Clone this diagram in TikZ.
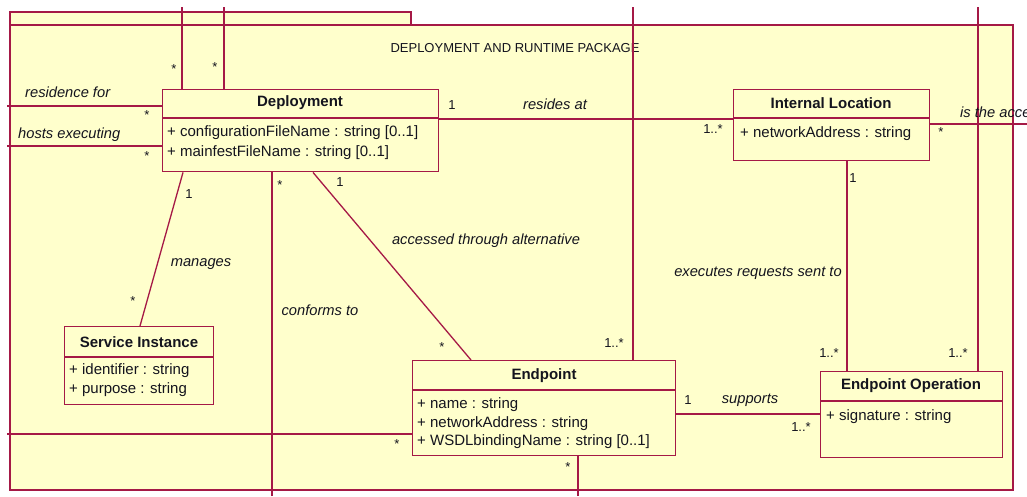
\documentclass[tikz,border=0pt]{standalone}
\usepackage{fontspec}
\setmainfont{Liberation Sans}
\definecolor{umlline}{RGB}{165,25,70}
\definecolor{umlfill}{RGB}{255,255,204}
\definecolor{umltext}{RGB}{20,20,30}
\begin{document}
\begin{tikzpicture}[x=1pt,y=-1pt,
  pkg/.style={draw=umlline,fill=umlfill,line width=1.4pt},
  cls/.style={draw=umlline,fill=umlfill,line width=1.4pt,inner sep=0pt,anchor=north west},
  divider/.style={draw=umlline,line width=1.3pt},
  assoc/.style={draw=umlline,line width=1.3pt},
  clsname/.style={inner sep=0pt,text=umltext,font=\bfseries\fontsize{15}{17}\selectfont},
  attr/.style={inner sep=0pt,anchor=west,text=umltext,font=\fontsize{15}{17}\selectfont},
  lbl/.style={inner sep=0pt,text=umltext,font=\itshape\fontsize{14.7}{17}\selectfont},
  mult/.style={inner sep=0pt,text=umltext,font=\fontsize{13}{15}\selectfont},
  pkgtitle/.style={inner sep=0pt,text=umltext,font=\fontsize{13}{15}\selectfont}]

\useasboundingbox (0,0) rectangle (1027,496);
\clip (0,0) rectangle (1027,496);
\fill[white] (0,0) rectangle (1027,496);

% package frame with its tab
\draw[pkg] (10,12) rectangle (411,25);
\draw[pkg] (10,25) rectangle (1013,490);
\node[pkgtitle] (pkgname) at (515,48) {DEPLOYMENT AND RUNTIME PACKAGE};

% class boxes (placed first so connectors can refer to them)
\node[cls,minimum width=276pt,minimum height=82pt] (dep) at (162,89) {};
\node[cls,minimum width=196pt,minimum height=71pt] (ilo) at (733,89) {};
\node[cls,minimum width=149pt,minimum height=78pt] (si) at (64,326) {};
\node[cls,minimum width=263pt,minimum height=95pt] (ep) at (412,360) {};
\node[cls,minimum width=182pt,minimum height=86pt] (eo) at (820,371) {};

% free ends of associations leaving the package
\coordinate (topA) at (182,7);
\coordinate (topB) at (224,7);
\coordinate (topC) at (633,7);
\coordinate (topD) at (978,7);
\coordinate (leftA) at (7,106);
\coordinate (leftB) at (7,146);
\coordinate (leftC) at (7,434);
\coordinate (rightA) at (1027,124);
\coordinate (botA) at (272,496);
\coordinate (botB) at (578,496);

% associations
\draw[assoc] (topA) -- (topA |- dep.north);
\draw[assoc] (topB) -- (topB |- dep.north);
\draw[assoc] (topC) -- (topC |- ep.north);
\draw[assoc] (topD) -- (topD |- eo.north);
\draw[assoc] (leftA) -- (leftA -| dep.west);
\draw[assoc] (leftB) -- (leftB -| dep.west);
\draw[assoc] (leftC) -- (leftC -| ep.west);
\draw[assoc] (rightA) -- (rightA -| ilo.east);
\draw[assoc] (botA) -- (botA |- dep.south);
\draw[assoc] (botB) -- (botB |- ep.south);
\draw[assoc] (dep.east |- 0,119) -- (ilo.west |- 0,119);
\draw[assoc] (ilo.south -| 847,0) -- (eo.north -| 847,0);
\draw[assoc] (ep.east |- 0,414) -- (eo.west |- 0,414);
\draw[assoc] (dep.south -| 183,0) -- (si.north -| 140,0);
\draw[assoc] (dep.south -| 313,0) -- (ep.north -| 471,0);

% redraw class boxes on top of the crossing lines
\node[cls,minimum width=276pt,minimum height=82pt] (depbox) at (162,89) {};
\node[cls,minimum width=196pt,minimum height=71pt] (ilobox) at (733,89) {};
\node[cls,minimum width=149pt,minimum height=78pt] (sibox) at (64,326) {};
\node[cls,minimum width=263pt,minimum height=95pt] (epbox) at (412,360) {};
\node[cls,minimum width=182pt,minimum height=86pt] (eobox) at (820,371) {};

% compartment dividers
\draw[divider] ([yshift=-29pt]dep.north west) -- ([yshift=-29pt]dep.north east);
\draw[divider] ([yshift=-29pt]ilo.north west) -- ([yshift=-29pt]ilo.north east);
\draw[divider] ([yshift=-31pt]si.north west) -- ([yshift=-31pt]si.north east);
\draw[divider] ([yshift=-30pt]ep.north west) -- ([yshift=-30pt]ep.north east);
\draw[divider] ([yshift=-30pt]eo.north west) -- ([yshift=-30pt]eo.north east);

% Deployment
\node[clsname] (depname) at (300,103) {Deployment};
\node[attr] (depa1) at (167,133) {+ configurationFileName : string [0..1]};
\node[attr] (depa2) at (167,153) {+ mainfestFileName : string [0..1]};

% Internal Location
\node[clsname] (iloname) at (831,103) {Internal Location};
\node[attr] (iloa1) at (740,134) {+ networkAddress : string};

% Service Instance
\node[clsname] (siname) at (139,342) {Service Instance};
\node[attr] (sia1) at (69,371) {+ identifier : string};
\node[attr] (sia2) at (69,390) {+ purpose : string};

% Endpoint
\node[clsname] (epname) at (544,376) {Endpoint};
\node[attr] (epa1) at (417,405) {+ name : string};
\node[attr] (epa2) at (417,424) {+ networkAddress : string};
\node[attr] (epa3) at (417,442) {+ WSDLbindingName : string [0..1]};

% Endpoint Operation
\node[clsname] (eoname) at (911,386) {Endpoint Operation};
\node[attr] (eoa1) at (826,417) {+ signature : string};

% association names
\node[lbl,anchor=west] (lres) at (25,92) {residence for};
\node[lbl,anchor=west] (lhost) at (18,135) {hosts executing};
\node[lbl] (lresides) at (555,104) {resides at};
\node[lbl,anchor=west] (lacc) at (960,112) {is the acce};
\node[lbl] (lexec) at (758,273) {executes requests sent to};
\node[lbl] (lsupp) at (750,400) {supports};
\node[lbl] (lalt) at (486,241) {accessed through alternative};
\node[lbl] (lconf) at (320,310) {conforms to};
\node[lbl] (lman) at (201,264) {manages};

% multiplicities
\node[mult] (m1) at (174,69) {*};
\node[mult] (m2) at (215,67) {*};
\node[mult] (m3) at (147,115) {*};
\node[mult] (m4) at (147,156) {*};
\node[mult] (m5) at (452,105) {1};
\node[mult] (m6) at (713,129) {1..*};
\node[mult] (m7) at (941,132) {*};
\node[mult] (m8) at (853,178) {1};
\node[mult] (m9) at (829,353) {1..*};
\node[mult] (m10) at (958,353) {1..*};
\node[mult] (m11) at (614,343) {1..*};
\node[mult] (m12) at (688,400) {1};
\node[mult] (m13) at (801,427) {1..*};
\node[mult] (m14) at (568,467) {*};
\node[mult] (m15) at (397,444) {*};
\node[mult] (m16) at (442,347) {*};
\node[mult] (m17) at (280,185) {*};
\node[mult] (m18) at (340,182) {1};
\node[mult] (m19) at (189,194) {1};
\node[mult] (m20) at (133,301) {*};
\end{tikzpicture}
\end{document}
